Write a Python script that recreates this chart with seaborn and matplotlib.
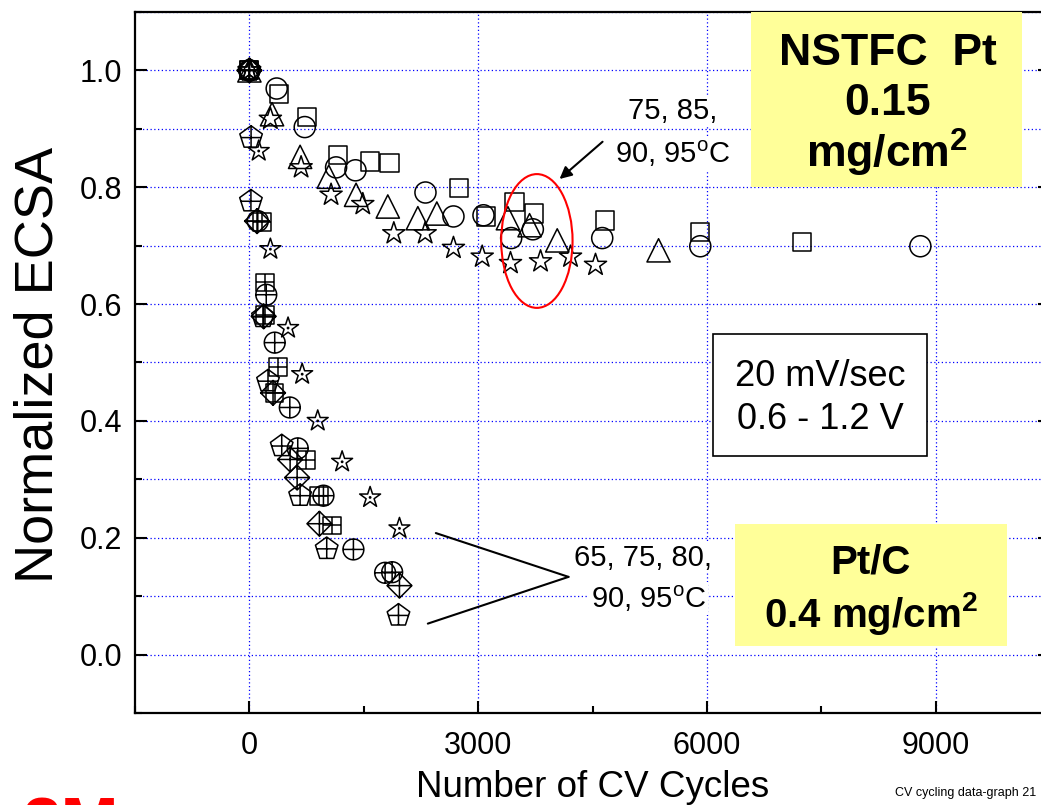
import matplotlib
matplotlib.use('Agg')
import matplotlib.pyplot as plt
from matplotlib.path import Path
from matplotlib.patches import Rectangle, Ellipse
from matplotlib.ticker import MultipleLocator, FormatStrFormatter
import numpy as np
import seaborn as sns

sns.set_theme(style='white')
plt.rcParams['font.family'] = ['Liberation Sans', 'DejaVu Sans']
plt.rcParams['mathtext.fontset'] = 'custom'
plt.rcParams['mathtext.rm'] = 'Liberation Sans'
plt.rcParams['mathtext.bf'] = 'Liberation Sans:bold'
plt.rcParams['text.color'] = 'black'
plt.rcParams['axes.labelcolor'] = 'black'

# NSTFC Pt 0.15 mg/cm2 (75, 85, 90, 95 C)
sq_x = [0, 394, 757, 1159, 1587, 1837, 2747, 3105, 3477, 3730, 4658, 5913, 7247]
sq_y = [1.0, 0.960, 0.920, 0.855, 0.844, 0.841, 0.798, 0.750, 0.775, 0.755, 0.743, 0.724, 0.707]
ci_x = [0, 358, 726, 1137, 1391, 2309, 2676, 3070, 3433, 3717, 4627, 5913, 8799]
ci_y = [1.0, 0.969, 0.903, 0.834, 0.829, 0.791, 0.750, 0.752, 0.713, 0.728, 0.713, 0.699, 0.699]
tr_x = [0, 297, 665, 1041, 1399, 1815, 2209, 2458, 3390, 3674, 4037, 5366]
tr_y = [1.0, 0.925, 0.852, 0.818, 0.787, 0.767, 0.747, 0.755, 0.747, 0.735, 0.709, 0.692]
st_x = [0, 275, 678, 1071, 1487, 1894, 2305, 2676, 3053, 3424, 3818, 4211, 4539]
st_y = [1.0, 0.917, 0.834, 0.787, 0.771, 0.721, 0.721, 0.696, 0.681, 0.670, 0.673, 0.681, 0.667]

# Pt/C 0.4 mg/cm2 (65, 75, 80, 90, 95 C)
sqx_x = [0, 160, 208, 200, 376, 330, 744, 909, 1080]
sqx_y = [1.0, 0.740, 0.637, 0.582, 0.493, 0.448, 0.333, 0.272, 0.221]
cix_x = [0, 110, 221, 332, 530, 634, 971, 1364, 1780, 1872]
cix_y = [1.0, 0.742, 0.616, 0.534, 0.423, 0.353, 0.272, 0.180, 0.140, 0.141]
pex_x = [0, 22, 20, 178, 244, 424, 665, 1014, 1955]
pex_y = [1.0, 0.885, 0.776, 0.578, 0.468, 0.357, 0.272, 0.181, 0.067]
dix_x = [0, 100, 187, 310, 534, 626, 918, 1968]
dix_y = [1.0, 0.742, 0.579, 0.448, 0.334, 0.303, 0.224, 0.118]
std_x = [0, 122, 275, 507, 692, 896, 1216, 1583, 1968]
std_y = [1.0, 0.862, 0.694, 0.559, 0.480, 0.400, 0.330, 0.269, 0.216]


def with_cross(base, h=1.0, v_top=1.0, v_bot=-1.0):
    cross = Path([[-h, 0], [h, 0], [0, v_bot], [0, v_top]],
                 [Path.MOVETO, Path.LINETO, Path.MOVETO, Path.LINETO])
    return Path.make_compound_path(base, cross)


square = Path([[-1, -1], [1, -1], [1, 1], [-1, 1], [-1, -1]],
              [Path.MOVETO, Path.LINETO, Path.LINETO, Path.LINETO, Path.CLOSEPOLY])
diamond = Path([[0, 1], [1, 0], [0, -1], [-1, 0], [0, 1]],
               [Path.MOVETO, Path.LINETO, Path.LINETO, Path.LINETO, Path.CLOSEPOLY])
circ = Path.unit_circle()
dot = Path(circ.vertices * 0.06, circ.codes)

m_sqx = with_cross(square)
m_cix = with_cross(circ)
m_pex = with_cross(Path.unit_regular_polygon(5), h=0.85, v_bot=-0.809)
m_dix = with_cross(diamond)
m_std = Path.make_compound_path(Path.unit_regular_star(5, 0.381966), dot)

series = [
    (sq_x, sq_y, 's', 170),
    (ci_x, ci_y, 'o', 230),
    (tr_x, tr_y, '^', 280),
    (st_x, st_y, '*', 280),
    (sqx_x, sqx_y, m_sqx, 165),
    (cix_x, cix_y, m_cix, 225),
    (pex_x, pex_y, m_pex, 290),
    (dix_x, dix_y, m_dix, 320),
    (std_x, std_y, m_std, 250),
]

fig = plt.figure(figsize=(10.41, 8.05), dpi=100)
ax = fig.add_axes([0.1297, 0.1143, 0.879, 0.8708])

for x, y, m, s in series:
    sns.scatterplot(x=x, y=y, marker=m, s=s, color='black', facecolor='none',
                    edgecolor='black', linewidth=1.1, ax=ax, zorder=3)

ax.set_xlim(-1500, 10500)
ax.set_ylim(-0.1, 1.1)
ax.xaxis.set_major_locator(MultipleLocator(3000))
ax.xaxis.set_minor_locator(MultipleLocator(1500))
ax.yaxis.set_major_locator(MultipleLocator(0.2))
ax.yaxis.set_minor_locator(MultipleLocator(0.1))
ax.yaxis.set_major_formatter(FormatStrFormatter('%.1f'))

ax.set_axisbelow(True)
grid_kw = dict(color='blue', linestyle=(0, (1, 2)), linewidth=0.9)
ax.grid(which='major', axis='x', **grid_kw)
ax.grid(which='both', axis='y', **grid_kw)

for sp in ax.spines.values():
    sp.set_color('black')
    sp.set_linewidth(1.6)
ax.tick_params(which='both', direction='in', width=1.5, color='black',
               left=True, right=True, bottom=True, top=False, labelsize=22,
               labelcolor='black')
ax.tick_params(which='major', length=8.5)
ax.tick_params(which='minor', length=5)
ax.tick_params(axis='y', pad=9)
ax.tick_params(axis='x', pad=13)

ax.set_xlabel('Number of CV Cycles', fontsize=26.5, color='black', va='baseline')
ax.xaxis.set_label_coords(0.5, -0.1198)
ax.set_ylabel('Normalized ECSA', fontsize=39, color='black', va='baseline')
ax.yaxis.set_label_coords(-0.0907, 0.4964)

# NSTFC box
ax.add_patch(Rectangle((6584, 0.800), 3554, 0.300, facecolor='#FFFF99',
                       edgecolor='none', zorder=4))
ax.text(8367, 1.0085, 'NSTFC  Pt', fontsize=32, fontweight='bold', ha='center', va='baseline', zorder=5)
ax.text(8367, 0.923, '0.15', fontsize=32, fontweight='bold', ha='center', va='baseline', zorder=5)
ax.text(8367, 0.834, r'mg/cm$^\mathbf{2}$', fontsize=32, fontweight='bold', ha='center',
        va='baseline', zorder=5)

# Pt/C box
ax.add_patch(Rectangle((6374, 0.0154), 3567, 0.2081, facecolor='#FFFF99',
                       edgecolor='none', zorder=4))
ax.text(8150, 0.138, 'Pt/C', fontsize=29, fontweight='bold', ha='center', va='baseline', zorder=5)
ax.text(8150, 0.0478, r'0.4 mg/cm$^\mathbf{2}$', fontsize=29, fontweight='bold', ha='center',
        va='baseline', zorder=5)

# scan condition box
ax.add_patch(Rectangle((6085, 0.340), 2807, 0.208, facecolor='white',
                       edgecolor='black', linewidth=1.2, zorder=4))
ax.text(7489, 0.459, '20 mV/sec', fontsize=26, ha='center', va='baseline', zorder=5)
ax.text(7489, 0.386, '0.6 - 1.2 V', fontsize=26, ha='center', va='baseline', zorder=5)

# NSTFC temperature label, arrow and ellipse
tb = dict(facecolor='white', edgecolor='none', pad=1)
ax.text(5548, 0.916, '75, 85,', fontsize=21, ha='center', va='baseline', bbox=tb, zorder=5)
ax.text(5548, 0.841, r'90, 95$^\mathregular{o}$C', fontsize=21, ha='center', va='baseline',
        bbox=tb, zorder=5)
ax.annotate('', xy=(4040, 0.811), xytext=(4659, 0.881),
            arrowprops=dict(arrowstyle='-|>', color='black', lw=1.5, mutation_scale=18))
ax.add_patch(Ellipse((3770, 0.708), 936, 0.229, facecolor='none', edgecolor='red',
                     linewidth=1.5, zorder=4))

# Pt/C temperature label and pointer lines
ax.text(5167, 0.152, '65, 75, 80,', fontsize=21, ha='center', va='baseline', bbox=tb, zorder=5)
ax.text(5233, 0.080, r'90, 95$^\mathregular{o}$C', fontsize=21, ha='center', va='baseline',
        bbox=tb, zorder=5)
ax.annotate('', xy=(2445, 0.208), xytext=(4185, 0.133),
            arrowprops=dict(arrowstyle='-', color='black', lw=1.5, shrinkA=0, shrinkB=0))
ax.annotate('', xy=(2340, 0.053), xytext=(4185, 0.133),
            arrowprops=dict(arrowstyle='-', color='black', lw=1.5, shrinkA=0, shrinkB=0))

fig.text(1036 / 1041, 0.0112, 'CV cycling data-graph 21', fontsize=9, color='black',
         ha='right', va='baseline')
fig.text(22 / 1041, -0.0509, '3M', fontsize=50, fontweight='bold', color='red', va='baseline')

fig.savefig('out.png', dpi=100)
